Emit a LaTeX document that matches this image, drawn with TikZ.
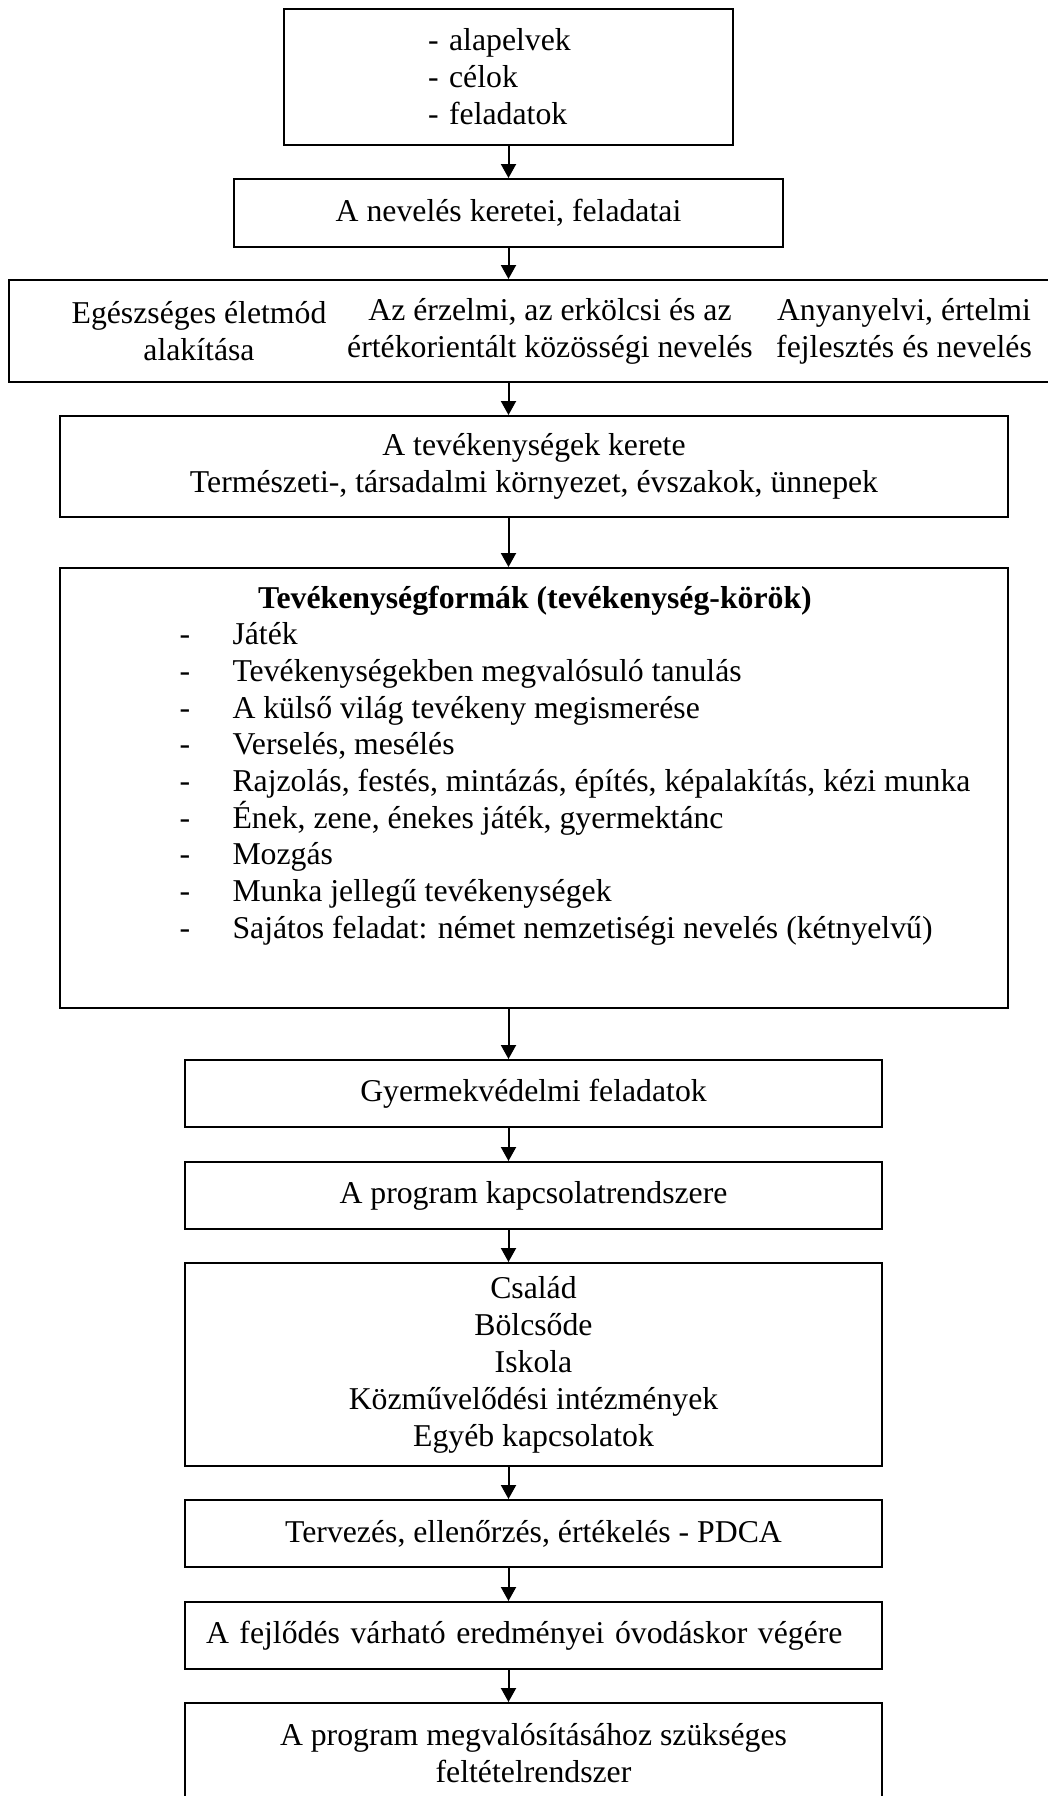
\documentclass[tikz,border=0pt]{standalone}
\usepackage{fontspec}
\setmainfont{Liberation Serif}
\usetikzlibrary{arrows.meta}
\newlength\pxunit
\setlength\pxunit{0.4pt}

\begin{document}
\fontsize{12.7}{14.8}\selectfont
\begin{tikzpicture}[x=0.4pt, y=-0.4pt,
		box/.style={draw, line width=0.8pt, inner sep=0pt, align=center, minimum width=697\pxunit, minimum height=67\pxunit},
		txt/.style={align=center},
		arr/.style={line width=0.8pt, -{Triangle[length=5.6pt, width=6pt]}}]
			%%%%% START %%%%%
			
			\useasboundingbox (0, 0) rectangle (1048, 1796);
			
			\node[box, minimum width=449\pxunit, minimum height=136\pxunit, text width=161\pxunit, inner xsep=144\pxunit, align=left] (goals) at (508.5, 77) {- alapelvek\\- célok\\- feladatok};
			\node[box, minimum width=549\pxunit, minimum height=68\pxunit] (frame) at (508.5, 213) {A nevelés keretei, feladatai};
			
			\node[box, minimum width=1046\pxunit, minimum height=102\pxunit] (areas) at (532, 331) {};
			\node[txt] (health) at (199, 331) {Egészséges életmód\\alakítása};
			\node[txt] (moral) at (550, 331) {Az érzelmi, az erkölcsi és az\\értékorientált közösségi nevelés};
			\node[txt] (mother) at (904, 331) {Anyanyelvi, értelmi\\fejlesztés és nevelés};
			
			\node[box, minimum width=948\pxunit, minimum height=101\pxunit] (setting) at (534, 466.5) {A tevékenységek kerete\\Természeti-, társadalmi környezet, évszakok, ünnepek};
			
			\node[box, minimum width=948\pxunit, minimum height=440\pxunit] (forms) at (534, 788) {};
			\node[anchor=base, font=\bfseries] (formtitle) at (535, 608) {Tevékenységformák (tevékenység-körök)};
			\foreach \activity [count=\i] in {Játék, Tevékenységekben megvalósuló tanulás, A külső világ tevékeny megismerése, {Verselés, mesélés}, {Rajzolás, festés, mintázás, építés, képalakítás, kézi munka}, {Ének, zene, énekes játék, gyermektánc}, Mozgás, Munka jellegű tevékenységek, Sajátos feladat: német nemzetiségi nevelés (kétnyelvű)}{
				\node[anchor=base] (dash\i) at (185, 608+36.7*\i) {-};
				\node[anchor=base west, inner sep=0pt] (act\i) at (232, 608+36.7*\i) {\activity};
			}
			
			\node[box] (protect) at (533.5, 1093.5) {Gyermekvédelmi feladatok};
			\node[box] (links) at (533.5, 1195.5) {A program kapcsolatrendszere};
			\node[box, minimum height=203\pxunit] (partners) at (533.5, 1364.5) {Család\\Bölcsőde\\Iskola\\Közművelődési intézmények\\Egyéb kapcsolatok};
			\node[box] (pdca) at (533.5, 1533.5) {Tervezés, ellenőrzés, értékelés - PDCA};
			\node[box, text width=655\pxunit, inner xsep=21\pxunit, align=left] (results) at (533.5, 1635.5) {A fejlődés várható eredményei óvodáskor végére};
			\node[box, minimum height=101\pxunit] (conditions) at (533.5, 1753.5) {A program megvalósításához szükséges\\feltételrendszer};
			
			\draw[arr] (goals.south) -- (frame.north);
			\draw[arr] (frame.south) -- (areas.north -| frame.south);
			\draw[arr] (areas.south -| goals.south) -- (setting.north -| goals.south);
			\draw[arr] (setting.south -| goals.south) -- (forms.north -| goals.south);
			\draw[arr] (forms.south -| goals.south) -- (protect.north -| goals.south);
			\draw[arr] (protect.south -| goals.south) -- (links.north -| goals.south);
			\draw[arr] (links.south -| goals.south) -- (partners.north -| goals.south);
			\draw[arr] (partners.south -| goals.south) -- (pdca.north -| goals.south);
			\draw[arr] (pdca.south -| goals.south) -- (results.north -| goals.south);
			\draw[arr] (results.south -| goals.south) -- (conditions.north -| goals.south);
			
			%%%%% END %%%%%
		\end{tikzpicture}
\end{document}
